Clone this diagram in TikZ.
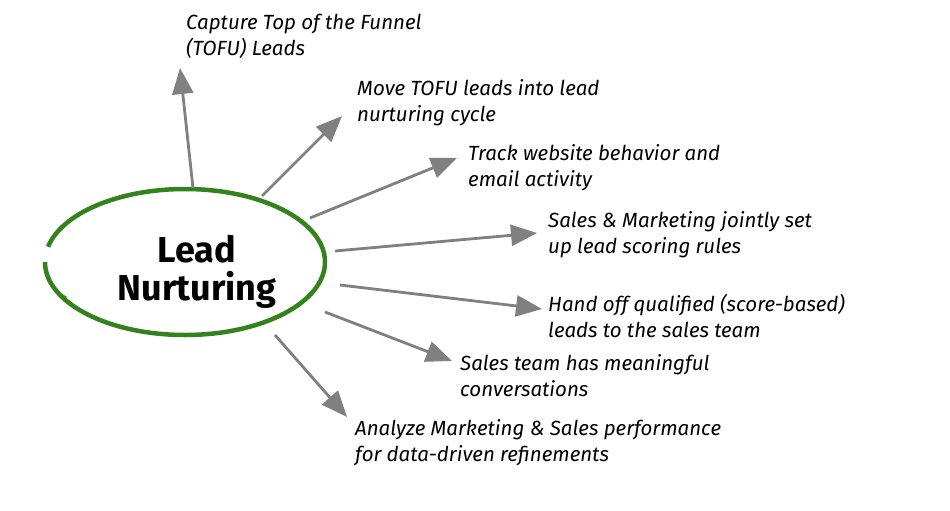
\documentclass[tikz,border=0pt]{standalone}
\usepackage{fontspec}
\setmainfont{Fira Sans}
\usetikzlibrary{arrows.meta}
\definecolor{leafgreen}{RGB}{52,130,30}
\definecolor{arrowgray}{RGB}{128,128,128}
\tikzstyle{task}=[anchor=north west,align=left,inner sep=0pt,font=\fontsize{20.5}{26}\selectfont\itshape]
\tikzstyle{pt}=[coordinate]
\tikzstyle{link}=[draw=arrowgray,line width=2.8pt,-{Triangle[length=26pt,width=21pt,fill=arrowgray]}]

\begin{document}
\begin{tikzpicture}[x=1pt,y=-1pt]
            \useasboundingbox (0,0) rectangle (950,511);
            \draw [leafgreen,line width=4.5pt] (45,262) arc (180:-168:140 and 73);
            \draw [leafgreen,line width=3pt] (45,262) .. controls (44,278) and (54,292) .. (66,298);
            \node [font=\fontsize{36}{36}\selectfont\bfseries,align=center] (hub) at (197,272) {Lead\\[2pt]Nurturing};
            \node [style=task] (s1) at (186,14) {Capture Top of the Funnel\\(TOFU) Leads};
            \node [style=task] (s2) at (357,79) {Move TOFU leads into lead\\nurturing cycle};
            \node [style=task] (s3) at (468,144) {Track website behavior and\\email activity};
            \node [style=task] (s4) at (548,211) {Sales \& Marketing jointly set\\up lead scoring rules};
            \node [style=task] (s5) at (548,294) {Hand off qualified (score-based)\\leads to the sales team};
            \node [style=task] (s6) at (460,354) {Sales team has meaningful\\conversations};
            \node [style=task] (s7) at (355,419) {Analyze Marketing \& Sales performance\\for data-driven refinements};
            \node [style=pt] (a1) at (193,188) {};
            \node [style=pt] (b1) at (180,68) {};
            \node [style=pt] (a2) at (262,196) {};
            \node [style=pt] (b2) at (342,116) {};
            \node [style=pt] (a3) at (310,218) {};
            \node [style=pt] (b3) at (457,158) {};
            \node [style=pt] (a4) at (335,251) {};
            \node [style=pt] (b4) at (537,233) {};
            \node [style=pt] (a5) at (340,285) {};
            \node [style=pt] (b5) at (542,309) {};
            \node [style=pt] (a6) at (325,312) {};
            \node [style=pt] (b6) at (452,361) {};
            \node [style=pt] (a7) at (275,335) {};
            \node [style=pt] (b7) at (347,417) {};
            \draw [style=link] (a1) to (b1);
            \draw [style=link] (a2) to (b2);
            \draw [style=link] (a3) to (b3);
            \draw [style=link] (a4) to (b4);
            \draw [style=link] (a5) to (b5);
            \draw [style=link] (a6) to (b6);
            \draw [style=link] (a7) to (b7);
    \end{tikzpicture}
\end{document}
